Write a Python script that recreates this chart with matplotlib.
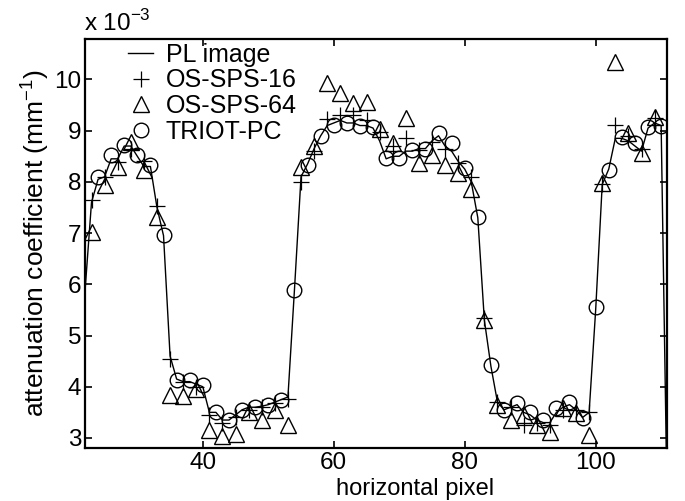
import matplotlib
matplotlib.use("Agg")
import matplotlib.pyplot as plt
import numpy as np

plt.rcParams['font.family'] = ['Liberation Sans', 'DejaVu Sans']
plt.rcParams['mathtext.fontset'] = 'custom'
plt.rcParams['mathtext.rm'] = 'Liberation Sans'

# PL image profile (every pixel), values in units of 1e-3 mm^-1
pl_x = list(range(22, 112))
pl_y = [5.85, 7.6, 8.05, 8.1, 8.45, 8.45, 8.7, 8.7, 8.5, 8.3,
        8.3, 7.5, 6.95, 4.6, 4.15, 4.1, 4.1, 4.05, 4.0, 3.5,
        3.5, 3.35, 3.35, 3.45, 3.55, 3.6, 3.6, 3.62, 3.65, 3.7,
        3.75, 3.8, 5.9, 8.1, 8.35, 8.65, 8.9, 9.1, 9.15, 9.2,
        9.15, 9.15, 9.1, 9.1, 9.05, 8.8, 8.45, 8.5, 8.5, 8.6,
        8.6, 8.65, 8.65, 8.8, 8.9, 8.7, 8.6, 8.4, 8.25, 8.0,
        7.3, 5.3, 4.4, 3.7, 3.55, 3.6, 3.65, 3.5, 3.45, 3.35,
        3.3, 3.3, 3.5, 3.6, 3.65, 3.55, 3.4, 3.5, 5.5, 7.95,
        8.25, 8.85, 8.85, 8.8, 8.7, 8.6, 9.05, 9.15, 9.1, 1.0]

# OS-SPS-16 and OS-SPS-64 at odd pixels
odd_x = list(range(23, 110, 2))
sps16 = [7.64, 8.1, 8.39, 8.65, 8.4, 7.53, 4.54, 4.1, 4.0, 3.45,
         3.3, 3.4, 3.55, 3.6, 3.68, 3.77, 8.0, 8.6, 9.22, 9.3,
         9.3, 9.21, 8.98, 8.7, 8.85, 8.62, 8.78, 8.65, 8.36, 8.1,
         5.35, 3.71, 3.6, 3.25, 3.3, 3.25, 3.55, 3.55, 3.51, 7.95,
         9.12, 8.9, 8.65, 9.24]
sps64 = [7.03, 7.94, 8.29, 8.78, 8.23, 7.32, 3.84, 3.81, 3.95, 3.16,
         3.04, 3.08, 3.5, 3.36, 3.55, 3.25, 8.29, 8.7, 9.93, 9.74,
         9.54, 9.55, 9.04, 8.75, 9.24, 8.36, 8.52, 8.33, 8.17, 7.87,
         5.3, 3.64, 3.35, 3.45, 3.25, 3.12, 3.58, 3.48, 3.06, 7.97,
         10.34, 8.95, 8.56, 9.27]

# TRIOT-PC at even pixels
even_x = list(range(24, 111, 2))
triot = [8.1, 8.52, 8.72, 8.52, 8.33, 6.96, 4.14, 4.13, 4.03, 3.51,
         3.35, 3.55, 3.61, 3.64, 3.74, 5.89, 8.33, 8.9, 9.11, 9.15,
         9.1, 9.08, 8.46, 8.46, 8.62, 8.65, 8.96, 8.75, 8.28, 7.32,
         4.42, 3.55, 3.68, 3.51, 3.35, 3.58, 3.71, 3.38, 5.55, 8.23,
         8.88, 8.75, 9.08, 9.1]

x_ticks = [40, 60, 80, 100]
y_ticks = [3, 4, 5, 6, 7, 8, 9, 10]

fig = plt.figure(figsize=(6.85, 5.01), dpi=100)
ax = fig.add_axes([0.1245, 0.1064, 0.8488, 0.8158])

ax.plot(pl_x, pl_y, '-', color='black', lw=1.0, label='PL image')
ax.plot(odd_x, sps16, '+', color='black', ms=11, mew=0.9, ls='none', label='OS-SPS-16')
ax.plot(odd_x, sps64, '^', mfc='none', mec='black', ms=11, mew=1.0, ls='none', label='OS-SPS-64')
ax.plot(even_x, triot, 'o', mfc='none', mec='black', ms=10.5, mew=1.0, ls='none', label='TRIOT-PC')

ax.set_xlim(22.05, 110.85)
ax.set_ylim(2.81, 10.79)
ax.set_xticks(x_ticks)
ax.set_yticks(y_ticks)
ax.tick_params(direction='in', length=5, width=1.2, labelsize=17.5,
               top=True, right=True, pad=3)
for s in ax.spines.values():
    s.set_linewidth(1.6)

ax.set_xlabel('horizontal pixel', fontsize=17, va='top')
ax.xaxis.set_label_coords(0.567, -0.0745)
ax.set_ylabel('attenuation coefficient (mm$^{-1}$)', fontsize=19, labelpad=2)

fig.text(0.122, 0.938, 'x 10$^{-3}$', fontsize=17.5, ha='left', va='baseline')

leg = fig.legend(loc='upper left', bbox_to_anchor=(0.1869, 0.915), frameon=False,
                 fontsize=18, handlelength=1.0, handletextpad=0.5,
                 labelspacing=0.07, borderpad=0.0, borderaxespad=0.0)

fig.savefig('out.png', dpi=100)
